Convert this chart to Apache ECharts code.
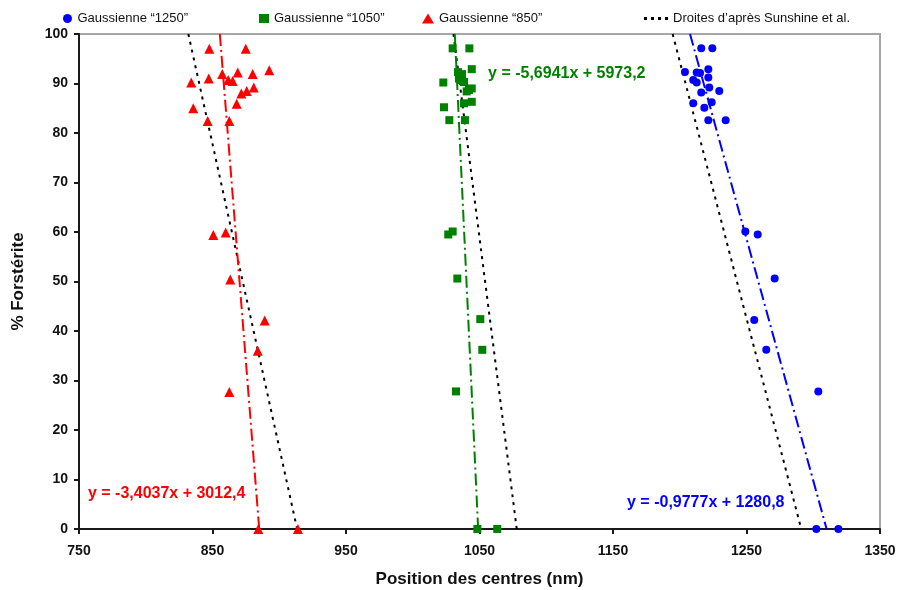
<!DOCTYPE html>
<html><head><meta charset="utf-8">
<script src="https://cdn.jsdelivr.net/npm/echarts/dist/echarts.min.js"></script>
<style>html,body{margin:0;padding:0;background:#fff}#c{width:900px;height:590px}</style>
</head><body><div id="c"></div>
<script>
// ---- data ----
const pos1250 = [1216.1,1224.4,1203.9,1212.7,1215.2,1221.4,1221.4,1210.1,1212.7,1222.1,1229.6,1216.1,1210.1,1223.9,1218.4,1221.4,1234.4,1249.1,1258.4,1271.1,1255.8,1264.8,1303.8,1302.3,1318.8];
const fo1250  = [97.1,97.1,92.3,92.2,92.1,92.9,91.2,90.7,90.2,89.2,88.5,88.2,86.0,86.2,85.1,82.6,82.6,60.1,59.5,50.6,42.2,36.2,27.8,0,0];
const pos1050 = [1029.9,1042.4,1044.2,1033.9,1036.9,1034.6,1022.9,1036.1,1038.4,1040.4,1044.2,1042.1,1038.4,1044.2,1023.4,1027.4,1039.1,1026.6,1029.9,1033.4,1050.6,1052.1,1032.4,1048.4,1063.3];
const fo1050  = [97.1,97.1,92.9,92.3,91.9,91.0,90.2,90.7,90.3,88.4,89.0,88.7,86.0,86.3,85.2,82.6,82.6,59.5,60.1,50.6,42.4,36.2,27.8,0,0];
const pos850  = [847.6,874.9,892.5,868.9,880.1,857.3,847.2,834.1,861.8,865.1,871.6,875.6,880.9,868.1,835.6,846.4,862.6,850.6,859.9,863.3,889.1,883.9,862.6,884.3,914.0];
const fo850   = [97.0,97.0,92.7,92.2,91.9,91.9,91.0,90.2,90.7,90.5,88.0,88.5,89.2,85.9,85.0,82.4,82.4,59.4,59.9,50.4,42.1,36.0,27.7,0,0];

const lineFo       = [100, 0];
const trendPos850  = [855.5, 885.0];
const trendPos1050 = [1031.5, 1049.0];
const trendPos1250 = [1207.7, 1310.0];
const sunPos850    = [831.9, 913.4];
const sunPos1050   = [1030.5, 1077.9];
const sunPos1250   = [1194.7, 1291.0];

const eq850  = 'y = -3,4037x + 3012,4';
const eq1050 = 'y = -5,6941x + 5973,2';
const eq1250 = 'y = -0,9777x + 1280,8';

const name1250 = 'Gaussienne “1250”';
const name1050 = 'Gaussienne “1050”';
const name850  = 'Gaussienne “850”';
const nameSun  = 'Droites d’après Sunshine et al.';

// ---- build ----
const pairs = (xs, ys) => xs.map((x, i) => [x, ys[i]]);
const FONT = '"Liberation Sans", Arial, sans-serif';
const C1250 = '#0000ff', C1050 = '#008000', C850 = '#ff0000';

function sunSeries(xs) {
  return { name: nameSun, type: 'line', data: pairs(xs, lineFo), symbol: 'none', silent: true, z: 1,
    itemStyle: { color: '#000' },
    lineStyle: { color: '#000', width: 2, type: [3, 5] } };
}
function trendSeries(id, xs, color) {
  return { name: id, type: 'line', data: pairs(xs, lineFo), symbol: 'none', silent: true, z: 2,
    lineStyle: { color: color, width: 2, type: [12, 4, 2, 4] } };
}
function legendAt(left, item, w, h) {
  return { left: left, top: 7, data: [item], itemWidth: w, itemHeight: h, itemGap: 5, selectedMode: false,
    textStyle: { fontFamily: FONT, fontSize: 13, color: '#111' } };
}

const chart = echarts.init(document.getElementById('c'), null, { renderer: 'canvas' });
chart.setOption({
  animation: false,
  backgroundColor: '#fff',
  grid: { left: 79, right: 20, top: 34, bottom: 61, containLabel: false, outerBoundsMode: 'none',
    show: true, borderColor: '#a6a6a6', borderWidth: 2 },
  legend: [
    legendAt(58, name1250, 10, 9),
    legendAt(254, name1050, 10, 9),
    legendAt(417, name850, 12, 10),
    legendAt(639, { name: nameSun, icon: 'path://M0,0h3v3h-3zM7,0h3v3h-3zM14,0h3v3h-3zM21,0h3v3h-3z', itemStyle: { color: '#000' } }, 24, 3)
  ],
  xAxis: {
    type: 'value', min: 750, max: 1350, interval: 100,
    name: 'Position des centres (nm)', nameLocation: 'middle', nameGap: 42,
    nameTextStyle: { fontFamily: FONT, fontSize: 17, fontWeight: 'bold', color: '#111' },
    axisLine: { onZero: false, lineStyle: { color: '#1a1a1a', width: 2 } },
    axisTick: { inside: false, length: 5, lineStyle: { color: '#1a1a1a', width: 2 } },
    axisLabel: { margin: 15, fontFamily: FONT, fontSize: 14, fontWeight: 'bold', color: '#111', formatter: v => String(v) },
    splitLine: { show: false }
  },
  yAxis: {
    type: 'value', min: 0, max: 100, interval: 10,
    name: '% Forstérite', nameLocation: 'middle', nameGap: 52, nameRotate: 90,
    nameTextStyle: { fontFamily: FONT, fontSize: 17, fontWeight: 'bold', color: '#111' },
    axisLine: { show: true, onZero: false, lineStyle: { color: '#1a1a1a', width: 2 } },
    axisTick: { show: true, inside: false, length: 5, lineStyle: { color: '#1a1a1a', width: 2 } },
    axisLabel: { margin: 11, fontFamily: FONT, fontSize: 14, fontWeight: 'bold', color: '#111', formatter: v => String(v) },
    splitLine: { show: false }
  },
  series: [
    sunSeries(sunPos850), sunSeries(sunPos1050), sunSeries(sunPos1250),
    trendSeries('t850', trendPos850, C850),
    trendSeries('t1050', trendPos1050, C1050),
    trendSeries('t1250', trendPos1250, C1250),
    { name: name1250, type: 'scatter', symbol: 'circle', symbolSize: 8, z: 3, data: pairs(pos1250, fo1250), itemStyle: { color: C1250, opacity: 1 } },
    { name: name1050, type: 'scatter', symbol: 'rect', symbolSize: 8, z: 3, data: pairs(pos1050, fo1050), itemStyle: { color: C1050, opacity: 1 } },
    { name: name850, type: 'scatter', symbol: 'triangle', symbolSize: 10, z: 3, data: pairs(pos850, fo850), itemStyle: { color: C850, opacity: 1 } }
  ]
});

// equation labels anchored at data coordinates
const eqs = [
  { text: eq850,  at: [756.7, 7.1],  color: C850 },
  { text: eq1050, at: [1056.4, 92.1], color: C1050 },
  { text: eq1250, at: [1160.5, 5.25], color: C1250 }
];
chart.setOption({
  graphic: eqs.map(e => {
    const p = chart.convertToPixel({ gridIndex: 0 }, e.at);
    return { type: 'text', x: p[0], y: p[1], z: 10,
      style: { text: e.text, fill: e.color, font: 'bold 16px ' + FONT, verticalAlign: 'middle', align: 'left' } };
  })
});
</script></body></html>
